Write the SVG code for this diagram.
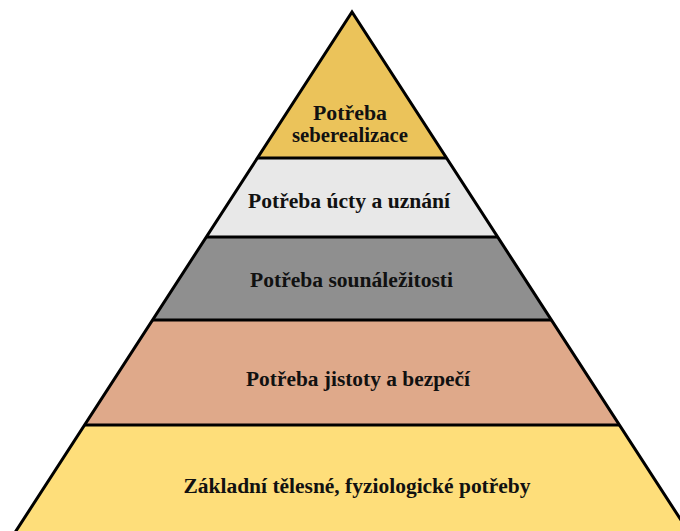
<svg xmlns="http://www.w3.org/2000/svg" width="680" height="531" viewBox="0 0 680 531">
<style>
.lbl{font-family:"Liberation Serif","Times New Roman",serif;font-weight:bold;font-size:20px;fill:#111;text-anchor:middle}
.band{stroke:none}
.sep{stroke:#000;stroke-width:3;fill:none}
.edge{stroke:#000;stroke-width:3;fill:none;stroke-linejoin:miter}
</style>
<rect width="680" height="531" fill="#fff"/>
<g id="layer5">
<polygon class="band" points="84.8,425 619.2,425 690,534 14,534" fill="#FEDE7A"/>
<text class="lbl" x="357" y="493" textLength="347" lengthAdjust="spacingAndGlyphs">Základní tělesné, fyziologické potřeby</text>
</g>
<g id="layer4">
<polygon class="band" points="152.7,320 551.3,320 619.2,425 84.8,425" fill="#DFA98A"/>
<text class="lbl" x="358" y="386" textLength="224" lengthAdjust="spacingAndGlyphs">Potřeba jistoty a bezpečí</text>
</g>
<g id="layer3">
<polygon class="band" points="206.4,237 497.6,237 551.3,320 152.7,320" fill="#8F8F8F"/>
<text class="lbl" x="351.5" y="287" textLength="203" lengthAdjust="spacingAndGlyphs">Potřeba sounáležitosti</text>
</g>
<g id="layer2">
<polygon class="band" points="257.5,158 446.5,158 497.6,237 206.4,237" fill="#E8E8E8"/>
<text class="lbl" x="349" y="208" textLength="202" lengthAdjust="spacingAndGlyphs">Potřeba úcty a uznání</text>
</g>
<g id="layer1">
<polygon class="band" points="352,12 446.5,158 257.5,158" fill="#EBC35A"/>
<text class="lbl" x="350" y="120" textLength="74" lengthAdjust="spacingAndGlyphs">Potřeba</text>
<text class="lbl" x="350" y="142" textLength="116" lengthAdjust="spacingAndGlyphs">seberealizace</text>
</g>
<g id="connectors">
<line class="sep" x1="257.5" y1="158" x2="446.5" y2="158"/>
<line class="sep" x1="206.4" y1="237" x2="497.6" y2="237"/>
<line class="sep" x1="152.7" y1="320" x2="551.3" y2="320"/>
<line class="sep" x1="84.8" y1="425" x2="619.2" y2="425"/>
<polyline class="edge" points="14,534 352,12 690,534"/>
</g>
</svg>
